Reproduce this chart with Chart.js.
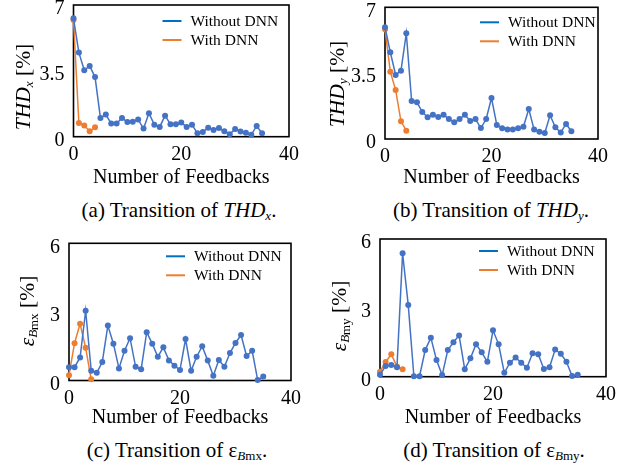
<!DOCTYPE html>
<html>
<head>
<meta charset="utf-8">
<script src="https://cdn.jsdelivr.net/npm/chart.js@4.4.1/dist/chart.umd.min.js"></script>
<style>
  body { margin: 0; background: #fff; }
  #page { position: relative; width: 630px; height: 467px; overflow: hidden; font-family: 'Liberation Serif', 'Times New Roman', serif; color: #000; }
  #page canvas { position: absolute; }
  .ytitle { position: absolute; font-size: 21.5px; white-space: nowrap; transform: translate(-50%, -50%) rotate(-90deg); }
  .caption { position: absolute; font-size: 21px; white-space: nowrap; transform: translate(-50%, -50%); }
  sub { font-size: 0.62em; vertical-align: -0.3em; line-height: 0; }
</style>
</head>
<body>
<div id="page">
  <canvas id="chartA" width="310" height="190" style="left:0px;top:0px"></canvas>
  <canvas id="chartB" width="320" height="190" style="left:310px;top:0px"></canvas>
  <canvas id="chartC" width="310" height="205" style="left:0px;top:225px"></canvas>
  <canvas id="chartD" width="320" height="205" style="left:310px;top:225px"></canvas>

  <div class="ytitle" style="left:23px;top:87px"><i>THD<sub>x</sub></i> [%]</div>
  <div class="ytitle" style="left:337px;top:84px"><i>THD<sub>y</sub></i> [%]</div>
  <div class="ytitle" style="left:27px;top:311px"><i>ε<sub>B</sub></i><sub style="margin-left:-0.05em">mx</sub> [%]</div>
  <div class="ytitle" style="left:339px;top:316px"><i>ε<sub>B</sub></i><sub style="margin-left:-0.05em">my</sub> [%]</div>

  <div class="caption" style="left:179px;top:210px">(a) Transition of <i>THD<sub>x</sub></i>.</div>
  <div class="caption" style="left:491px;top:210px">(b) Transition of <i>THD<sub>y</sub></i>.</div>
  <div class="caption" style="left:177px;top:450px">(c) Transition of ε<sub><i>B</i>mx</sub>.</div>
  <div class="caption" style="left:494px;top:450px">(d) Transition of ε<sub><i>B</i>my</sub>.</div>
</div>

<script>
const serif = "'Liberation Serif', 'Times New Roman', serif"

// x values (number of feedbacks)
const feedbacks = [0, 1, 2, 3, 4, 5, 6, 7, 8, 9, 10, 11, 12, 13, 14, 15, 16, 17,
  18, 19, 20, 21, 22, 23, 24, 25, 26, 27, 28, 29, 30, 31, 32, 33, 34, 35]
const dnnFeedbacks = [0, 1, 2, 3, 4]

const seriesLabels = ['Without DNN', 'With DNN']

// (a) THDx [%]
const thdxWithout = [6.29, 4.47, 3.53, 3.76, 3.17, 1.0, 1.18, 0.7, 0.7, 1.0, 0.78, 0.8,
  0.91, 0.43, 1.25, 0.64, 0.52, 1.12, 0.66, 0.66, 0.75, 0.52, 0.64, 0.18, 0.25, 0.48,
  0.36, 0.46, 0.29, 0.13, 0.41, 0.27, 0.21, 0.11, 0.57, 0.18]
const thdxWith = [6.2, 0.73, 0.59, 0.29, 0.5]

// (b) THDy [%]
const thdyWithout = [5.94, 4.61, 3.4, 3.63, 5.62, 2.02, 1.95, 1.44, 1.15, 1.29, 1.17, 1.29,
  1.06, 0.89, 1.06, 1.29, 0.96, 1.06, 0.58, 1.06, 2.18, 0.74, 0.57, 0.5, 0.5, 0.57,
  0.65, 1.59, 0.5, 0.39, 0.32, 1.26, 0.62, 0.34, 0.8, 0.41]
const thdyWith = [5.83, 3.58, 2.6, 0.94, 0.44]

// (c) eps_Bmx [%]
const epsBmxWithout = [0.58, 0.58, 1.01, 3.05, 0.43, 0.34, 0.81, 2.4, 1.61, 0.53, 1.3, 1.85,
  0.6, 0.49, 2.11, 1.61, 1.04, 1.45, 0.88, 0.65, 0.46, 1.81, 0.43, 1.04, 1.5, 0.87,
  0.21, 0.9, 0.6, 1.2, 1.64, 1.99, 1.07, 1.3, 0.02, 0.17]
const epsBmxWith = [0.23, 1.63, 2.48, 1.43, 0.05]

// (d) eps_Bmy [%]
const epsBmyWithout = [0.08, 0.47, 0.51, 0.41, 5.38, 3.12, 0.02, 0.02, 1.16, 1.7, 0.73, 0.07,
  1.16, 1.5, 1.8, 0.32, 0.8, 1.41, 1.06, 0.65, 2.02, 1.41, 0.17, 0.61, 0.84, 0.61,
  0.39, 1.02, 0.98, 0.34, 0.41, 1.18, 1.0, 0.65, 0.03, 0.09]
const epsBmyWith = [0.22, 0.64, 0.98, 0.44, 0.32]

// axis ticks
const xTicks = [0, 20, 40]
const thdTicks = [0, 3.5, 7]
const epsTicks = [0, 3, 6]

const BLUE = '#4472C4'
const ORANGE = '#ED7D31'
const LEGEND_BLUE = '#0070C0'

Chart.defaults.color = '#000'
Chart.defaults.font.family = serif

/* PLUGINS */

const framePlugin = {
  id: 'frame',
  beforeDatasetsDraw(chart) {
    const { ctx, chartArea: { left, top, right, bottom } } = chart
    ctx.save()
    ctx.strokeStyle = '#000'
    ctx.lineWidth = 1.6
    ctx.strokeRect(left, top, right - left, bottom - top)
    ctx.restore()
  }
}

const insideLegend = {
  id: 'insideLegend',
  afterDatasetsDraw(chart, args, opts) {
    const { ctx, chartArea } = chart
    const x0 = chartArea.left + opts.x
    ctx.save()
    ctx.font = `15.5px ${serif}`
    ctx.textBaseline = 'middle'
    chart.data.datasets.forEach((ds, i) => {
      const y = chartArea.top + opts.y + i * 19
      ctx.strokeStyle = ds.legendColor
      ctx.lineWidth = 2
      ctx.beginPath()
      ctx.moveTo(x0, y)
      ctx.lineTo(x0 + 19, y)
      ctx.stroke()
      ctx.fillStyle = '#000'
      ctx.fillText(ds.label, x0 + 28, y + 1)
    })
    ctx.restore()
  }
}

function toPoints(xs, ys) {
  return ys.map((v, i) => ({ x: xs[i], y: v }))
}

function makeDataset(label, xs, ys, color, legendColor) {
  return {
    label,
    data: toPoints(xs, ys),
    borderColor: color,
    backgroundColor: color,
    legendColor,
    borderWidth: 1.5,
    pointRadius: 3,
    pointBorderWidth: 0,
    pointBackgroundColor: color,
    tension: 0,
    clip: false
  }
}

// box = chart area inside the canvas: left, top, right, bottom
function makeChart(id, withoutVals, withVals, yTicks, box, legendPos) {
  const canvas = document.getElementById(id)
  const W = canvas.width
  const H = canvas.height
  return new Chart(canvas, {
    type: 'line',
    data: {
      datasets: [
        makeDataset(seriesLabels[0], feedbacks, withoutVals, BLUE, LEGEND_BLUE),
        makeDataset(seriesLabels[1], dnnFeedbacks, withVals, ORANGE, ORANGE)
      ]
    },
    options: {
      responsive: false,
      animation: false,
      layout: { padding: { left: 0, top: box.top, right: W - box.right, bottom: 0 } },
      plugins: {
        legend: { display: false },
        tooltip: { enabled: false },
        insideLegend: legendPos
      },
      scales: {
        x: {
          type: 'linear',
          min: xTicks[0],
          max: xTicks[xTicks.length - 1],
          grid: { display: false, drawTicks: false },
          border: { display: false },
          afterBuildTicks: (s) => { s.ticks = xTicks.map((v) => ({ value: v })) },
          afterFit: (s) => {
            s.height = H - box.bottom
            s.paddingLeft = 0
            s.paddingRight = 0
          },
          ticks: { padding: 6, maxRotation: 0, font: { size: 20 }, color: '#000' },
          title: {
            display: true,
            text: 'Number of Feedbacks',
            font: { size: 20 },
            color: '#000',
            padding: { top: 0, bottom: 0 }
          }
        },
        y: {
          min: yTicks[0],
          max: yTicks[yTicks.length - 1],
          grid: { display: false, drawTicks: false },
          border: { display: false },
          afterBuildTicks: (s) => { s.ticks = yTicks.map((v) => ({ value: v })) },
          afterFit: (s) => {
            s.width = box.left
            s.paddingTop = 0
            s.paddingBottom = 0
          },
          ticks: { padding: 9, labelOffset: 4, font: { size: 20 }, color: '#000' }
        }
      }
    },
    plugins: [framePlugin, insideLegend]
  })
}

makeChart('chartA', thdxWithout, thdxWith, thdTicks,
  { left: 73.5, top: 5, right: 289, bottom: 136.7 }, { x: 89, y: 16 })
makeChart('chartB', thdyWithout, thdyWith, thdTicks,
  { left: 75, top: 7.3, right: 288, bottom: 139 }, { x: 95, y: 15 })
makeChart('chartC', epsBmxWithout, epsBmxWith, epsTicks,
  { left: 69, top: 18.3, right: 291, bottom: 155.5 }, { x: 97, y: 13 })
makeChart('chartD', epsBmyWithout, epsBmyWith, epsTicks,
  { left: 70, top: 14, right: 296, bottom: 151.7 }, { x: 99, y: 12 })
</script>
</body>
</html>
